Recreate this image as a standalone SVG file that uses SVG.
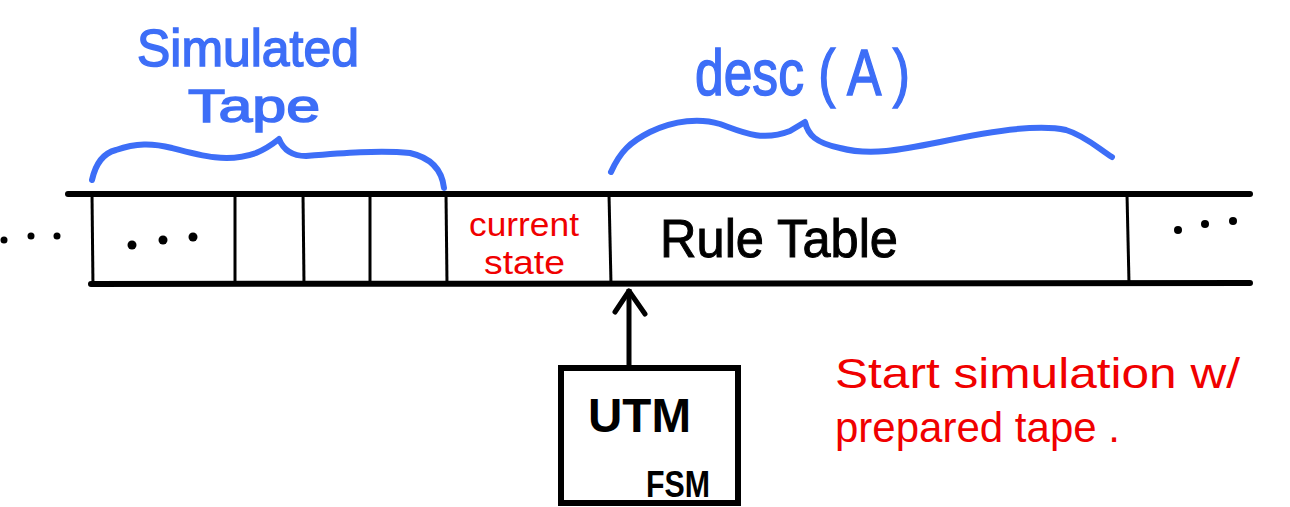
<svg xmlns="http://www.w3.org/2000/svg" width="1290" height="507" viewBox="0 0 1290 507">
<defs>
<style>
.tape{stroke:#000;stroke-width:6;stroke-linecap:round;fill:none}
.div{stroke:#000;stroke-width:3;fill:none}
.brace{stroke:#3d6ef7;stroke-width:6;stroke-linecap:round;stroke-linejoin:round;fill:none}
.dot{fill:#000}
.blue{fill:#3d6ef7;stroke:#3d6ef7;stroke-width:1.5;font-family:"Liberation Sans",Arial,sans-serif}
.red{fill:#f00000;font-family:"Liberation Sans",Arial,sans-serif}
.blk{fill:#000;font-family:"Liberation Sans",Arial,sans-serif}
</style>
</defs>
<rect width="1290" height="507" fill="#fff"/>
<g id="tape">
<line class="tape" x1="68" y1="194" x2="1250" y2="194"/>
<line class="tape" x1="91" y1="284" x2="1250" y2="283"/>
<line class="div" x1="92" y1="194" x2="93" y2="287"/>
<line class="div" x1="235" y1="194" x2="235" y2="284"/>
<line class="div" x1="303" y1="194" x2="304" y2="284"/>
<line class="div" x1="370" y1="194" x2="370" y2="284"/>
<line class="div" x1="446" y1="194" x2="447" y2="284"/>
<line class="div" x1="609" y1="194" x2="611" y2="284"/>
<line class="div" x1="1127" y1="194" x2="1129" y2="283"/>
</g>
<g id="dots-left">
<circle class="dot" cx="4" cy="240" r="3.5"/>
<circle class="dot" cx="31" cy="236" r="3.5"/>
<circle class="dot" cx="57" cy="236" r="3.5"/>
</g>
<g id="dots-cell">
<circle class="dot" cx="132" cy="245" r="4.5"/>
<circle class="dot" cx="163" cy="240" r="4.5"/>
<circle class="dot" cx="193" cy="237" r="4.5"/>
</g>
<g id="dots-right">
<circle class="dot" cx="1178" cy="230" r="4"/>
<circle class="dot" cx="1205" cy="224" r="4"/>
<circle class="dot" cx="1233" cy="221" r="4"/>
</g>
<g id="current-state">
<text class="red" x="469" y="236" font-size="34" textLength="110" lengthAdjust="spacingAndGlyphs">current</text>
<text class="red" x="484" y="274" font-size="34" textLength="81" lengthAdjust="spacingAndGlyphs">state</text>
</g>
<g id="rule-table">
<text class="blk" x="660" y="257" font-size="54" stroke="#000" stroke-width="1" textLength="238" lengthAdjust="spacingAndGlyphs">Rule Table</text>
</g>
<g id="simulated-tape">
<path class="brace" d="M92,180 C96,162 104,153 116,150 C136,143 152,143 172,148 C202,156 228,163 256,153 C268,148 274,143 279,139 C283,149 291,156 306,156 C342,153 380,150 410,153 C432,158 442,170 444,188"/>
<text class="blue" x="137" y="66" font-size="52" textLength="222" lengthAdjust="spacingAndGlyphs">Simulated</text>
<text class="blue" x="188" y="122" font-size="46" textLength="132" lengthAdjust="spacingAndGlyphs">Tape</text>
</g>
<g id="desc-a">
<path class="brace" d="M611,172 C620,152 630,142 650,132 C675,120 700,118 720,124 C742,132 762,142 790,131 L805,122 C808,135 816,143 840,148 C870,156 900,150 940,142 C990,131 1040,124 1066,130 C1086,136 1100,150 1112,157"/>
<text class="blue" x="695" y="95" font-size="64" textLength="215" lengthAdjust="spacingAndGlyphs">desc ( A )</text>
</g>
<g id="utm">
<rect x="561" y="368" width="177" height="135" fill="none" stroke="#000" stroke-width="6"/>
<text class="blk" x="588" y="432" font-size="48" font-weight="bold" textLength="103" lengthAdjust="spacingAndGlyphs">UTM</text>
<text class="blk" x="646" y="497" font-size="36" font-weight="bold" textLength="64" lengthAdjust="spacingAndGlyphs">FSM</text>
</g>
<g id="connectors">
<line x1="629" y1="366" x2="629" y2="289" stroke="#000" stroke-width="5"/>
<polyline points="615,312 629,291 645,314" fill="none" stroke="#000" stroke-width="5" stroke-linecap="round" stroke-linejoin="round"/>
</g>
<g id="note">
<text class="red" x="835" y="388" font-size="42" textLength="405" lengthAdjust="spacingAndGlyphs">Start simulation w/</text>
<text class="red" x="835" y="442" font-size="42" textLength="285" lengthAdjust="spacingAndGlyphs">prepared tape .</text>
</g>
</svg>
